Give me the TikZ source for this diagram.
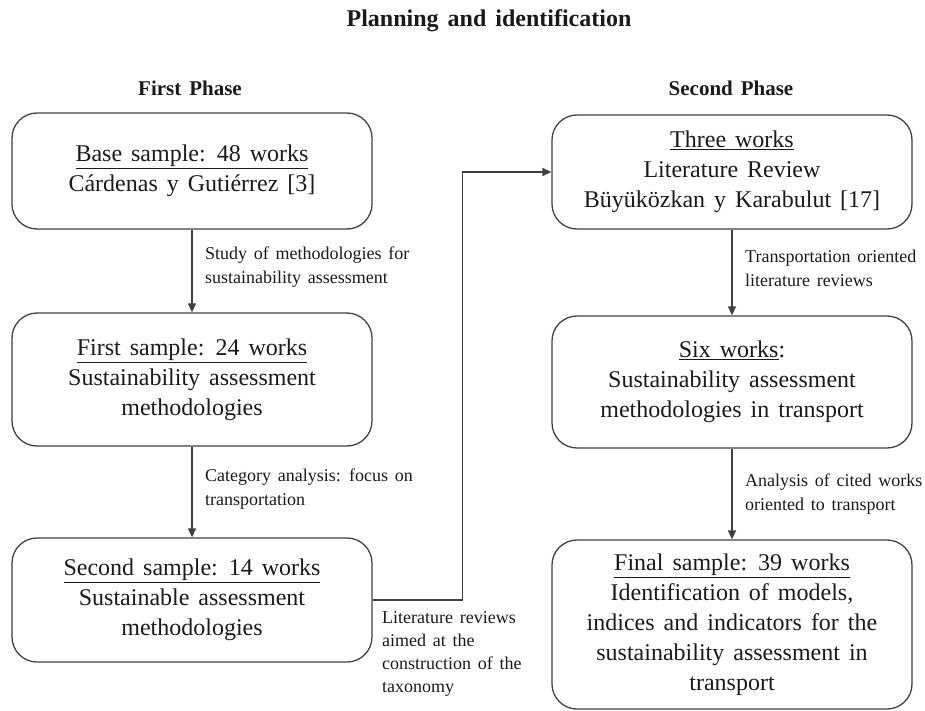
\documentclass[tikz,border=0pt]{standalone}
\usepackage{fontspec}
\setmainfont{Liberation Serif}[WordSpace=1.5]
\usetikzlibrary{arrows.meta}
\definecolor{ln}{HTML}{404040}
\definecolor{tx}{HTML}{1A1A1A}
\begin{document}
\begin{tikzpicture}[x=1pt,y=-1pt,
  box/.style={draw=ln, line width=1.3pt, rounded corners=25pt, minimum width=360pt,
    align=center, inner sep=0pt, text=tx, font=\fontsize{24}{30}\selectfont},
  lbl/.style={anchor=west, align=left, inner sep=0pt, text=tx, font=\fontsize{18}{24}\selectfont},
  head/.style={inner sep=0pt, text=tx},
  arr/.style={draw=ln, line width=1.3pt, -{Triangle[length=9pt,width=8pt]}}]
\useasboundingbox (0,0) rectangle (925,711);

\node[head, font=\bfseries\fontsize{24}{28}\selectfont] (title) at (489,21) {Planning and identification};
\node[head, font=\bfseries\fontsize{21}{25}\selectfont] (ph1) at (190,88) {First Phase};
\node[head, font=\bfseries\fontsize{21}{25}\selectfont] (ph2) at (731,88) {Second Phase};

\node[box, minimum height=116pt] (b1) at (192,171) {\underline{Base sample: 48 works}\\C\'ardenas y Guti\'errez [3]};
\node[box, minimum height=133pt] (b2) at (192,379.5) {\underline{First sample: 24 works}\\Sustainability assessment\\methodologies};
\node[box, minimum height=124pt] (b3) at (192,600) {\underline{Second sample: 14 works}\\Sustainable assessment\\methodologies};

\node[box, minimum height=114pt] (ba) at (732,172) {\underline{Three works}\\Literature Review\\B\"uy\"uk\"ozkan y Karabulut [17]};
\node[box, minimum height=132pt] (bb) at (732,382) {\underline{Six works}:\\Sustainability assessment\\methodologies in transport};
\node[box, minimum height=169pt] (bc) at (732,624.5) {\underline{Final sample: 39 works}\\Identification of models,\\indices and indicators for the\\sustainability assessment in\\transport};

\draw[arr] (b1) -- (b2);
\draw[arr] (b2) -- (b3);
\draw[arr] (ba) -- (bb);
\draw[arr] (bb) -- (bc);
\draw[arr] (b3.east) -- ++(90,0) |- (ba.west);

\node[lbl] (l1) at (205,267) {Study of methodologies for\\sustainability assessment};
\node[lbl] (l2) at (205,489) {Category analysis: focus on\\transportation};
\node[lbl, font=\fontsize{18}{23}\selectfont] (l3) at (382,654) {Literature reviews\\aimed at the\\construction of the\\taxonomy};
\node[lbl] (r1) at (745,268.5) {Transportation oriented\\literature reviews};
\node[lbl] (r2) at (745,494.5) {Analysis of cited works\\oriented to transport};
\end{tikzpicture}
\end{document}
